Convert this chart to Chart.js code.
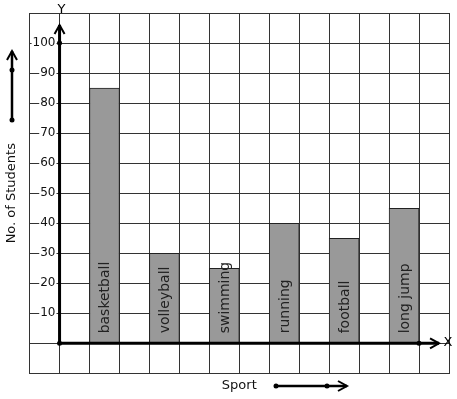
<!DOCTYPE html>
<html lang="en">
<head>
  <meta charset="UTF-8" />
  <title>No. of Students by Sport</title>
  <script src="https://cdn.jsdelivr.net/npm/chart.js"></script>
  <style>
    body {
      margin: 0;
      background: #ffffff;
    }
    .wrap {
      width: 457px;
      height: 399px;
    }
  </style>
</head>
<body>
  <div class="wrap">
    <canvas id="sportChart" width="457" height="399"></canvas>
  </div>

  <script>
    const sports = ['basketball', 'volleyball', 'swimming', 'running', 'football', 'long jump'];
    const students = [85, 30, 25, 40, 35, 45];
    const yTicks = [10, 20, 30, 40, 50, 60, 70, 80, 90, 100];

    // grid cells along x: one empty cell left of the Y axis, then an empty
    // cell before each bar, and one spare cell at the right end
    const slots = ['', ''];
    const slotValues = [null, null];
    sports.forEach((s, i) => {
      slots.push(s, '');
      slotValues.push(students[i], null);
    });

    const FONT = '"DejaVu Sans", Verdana, sans-serif';

    function dot(ctx, x, y, r) {
      ctx.beginPath();
      ctx.arc(x, y, r, 0, Math.PI * 2);
      ctx.fill();
    }

    const axesPlugin = {
      id: 'axesPlugin',
      afterDatasetsDraw(chart) {
        const ctx = chart.ctx;
        const meta = chart.getDatasetMeta(0);
        const y0 = chart.scales.y.getPixelForValue(0);
        ctx.save();
        ctx.fillStyle = '#222';
        ctx.font = '14px ' + FONT;
        ctx.textAlign = 'left';
        ctx.textBaseline = 'middle';
        meta.data.forEach((bar, i) => {
          const label = slots[i];
          if (!label || slotValues[i] == null) return;
          ctx.save();
          ctx.translate(bar.x + 1, y0 - 10);
          ctx.rotate(-Math.PI / 2);
          ctx.fillText(label, 0, 0);
          ctx.restore();
        });
        ctx.restore();
      },
      afterDraw(chart) {
        const ctx = chart.ctx;
        const xs = chart.scales.x;
        const ys = chart.scales.y;
        const ox = (xs.getPixelForValue(0) + xs.getPixelForValue(1)) / 2;
        const oy = ys.getPixelForValue(0);
        const top = ys.getPixelForValue(106);
        const lastX = (xs.getPixelForValue(12) + xs.getPixelForValue(13)) / 2;
        const right = lastX + 20;

        ctx.save();
        ctx.strokeStyle = '#000';
        ctx.fillStyle = '#000';
        ctx.lineWidth = 3;
        ctx.lineCap = 'butt';
        // axes
        ctx.beginPath();
        ctx.moveTo(ox, oy);
        ctx.lineTo(ox, top);
        ctx.moveTo(ox, oy);
        ctx.lineTo(right, oy);
        ctx.stroke();
        ctx.lineWidth = 2;
        ctx.beginPath();
        ctx.moveTo(ox - 5, top + 9);
        ctx.lineTo(ox, top);
        ctx.lineTo(ox + 5, top + 9);
        ctx.moveTo(right - 9, oy - 5);
        ctx.lineTo(right, oy);
        ctx.lineTo(right - 9, oy + 5);
        ctx.stroke();
        dot(ctx, ox, oy, 2.5);
        dot(ctx, ox, ys.getPixelForValue(100), 2.5);
        dot(ctx, lastX, oy, 2.5);

        ctx.font = '13px ' + FONT;
        ctx.textAlign = 'center';
        ctx.textBaseline = 'middle';
        ctx.fillText('Y', ox + 2, 10);
        ctx.fillText('X', right + 9, oy - 1);

        // decorative arrows next to the axis titles
        const ax = 12;
        ctx.lineWidth = 2.5;
        ctx.beginPath();
        ctx.moveTo(ax, 120);
        ctx.lineTo(ax, 51);
        ctx.stroke();
        ctx.lineWidth = 2;
        ctx.beginPath();
        ctx.moveTo(ax - 5, 60);
        ctx.lineTo(ax, 51);
        ctx.lineTo(ax + 5, 60);
        ctx.stroke();
        dot(ctx, ax, 70, 2.5);
        dot(ctx, ax, 120, 2.5);

        const ay = 386;
        ctx.lineWidth = 2.5;
        ctx.beginPath();
        ctx.moveTo(276, ay);
        ctx.lineTo(347, ay);
        ctx.stroke();
        ctx.lineWidth = 2;
        ctx.beginPath();
        ctx.moveTo(338, ay - 5);
        ctx.lineTo(347, ay);
        ctx.lineTo(338, ay + 5);
        ctx.stroke();
        dot(ctx, 276, ay, 2.5);
        dot(ctx, 327, ay, 2.5);
        ctx.restore();
      }
    };

    new Chart(document.getElementById('sportChart'), {
      type: 'bar',
      data: {
        labels: slots,
        datasets: [{
          label: 'No. of Students',
          data: slotValues,
          backgroundColor: '#999999',
          borderColor: '#222222',
          borderWidth: 1,
          barPercentage: 1,
          categoryPercentage: 1
        }]
      },
      options: {
        responsive: false,
        animation: false,
        events: [],
        layout: {
          padding: { left: 0, top: 13, right: 8, bottom: 2 }
        },
        plugins: {
          legend: { display: false },
          tooltip: { enabled: false }
        },
        scales: {
          x: {
            offset: true,
            grid: { offset: true, color: '#333', lineWidth: 1, drawTicks: false },
            border: { display: true, color: '#333', width: 1 },
            ticks: { display: false },
            title: {
              display: true,
              text: 'Sport',
              color: '#111',
              font: { family: FONT, size: 13 },
              padding: { top: 4, bottom: 4 }
            }
          },
          y: {
            min: -10,
            max: 110,
            grid: { color: '#333', lineWidth: 1, drawTicks: false },
            border: { display: true, color: '#333', width: 1 },
            ticks: {
              stepSize: 10,
              mirror: true,
              crossAlign: 'far',
              padding: 3,
              z: 1,
              color: '#111',
              font: { family: FONT, size: 12 },
              showLabelBackdrop: c => yTicks.includes(c.tick.value),
              backdropColor: '#ffffff',
              backdropPadding: { top: 1, bottom: 1, left: 1, right: 1 },
              callback: v => (yTicks.includes(v) ? String(v) : '')
            },
            title: {
              display: true,
              text: 'No. of Students',
              color: '#111',
              font: { family: FONT, size: 13 },
              padding: { top: 4, bottom: 4 }
            }
          }
        }
      },
      plugins: [axesPlugin]
    });
  </script>
</body>
</html>
